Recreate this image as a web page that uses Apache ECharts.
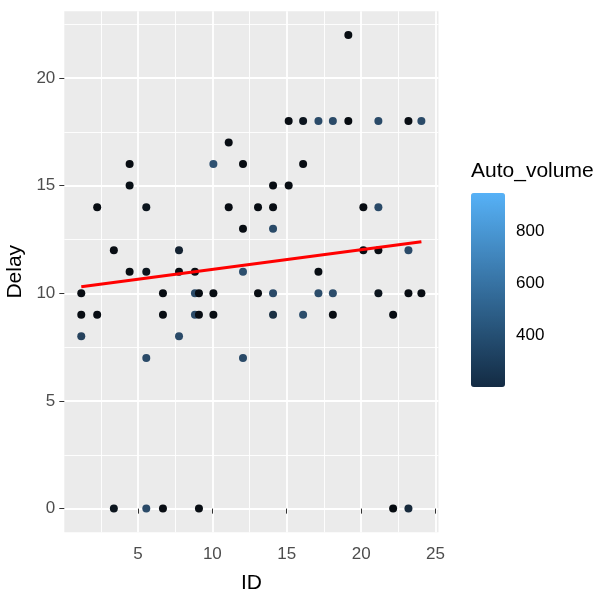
<!DOCTYPE html>
<html>
<head>
<meta charset="utf-8">
<script src="https://cdn.jsdelivr.net/npm/echarts@6/dist/echarts.min.js"></script>
<style>
  html, body { margin: 0; padding: 0; background: #fff; }
  #chart { width: 600px; height: 591px; }
</style>
</head>
<body>
<div id="chart"></div>
<script>
// point data
const ids = [
  1.19, 1.19, 1.19, 2.26, 2.26, 3.38, 3.38, 4.44, 4.44, 4.44,
  5.56, 5.56, 5.56, 5.56, 6.68, 6.68, 6.68, 7.76, 7.76, 7.76,
  8.83, 8.83, 8.83, 9.1, 9.1, 9.1, 10.07, 10.07, 10.07, 11.1,
  11.1, 12.06, 12.06, 12.06, 12.06, 13.07, 13.07, 14.08, 14.08, 14.08,
  14.08, 14.08, 15.13, 15.13, 16.1, 16.1, 16.1, 17.13, 17.13, 17.13,
  18.1, 18.1, 18.1, 19.14, 19.14, 20.15, 20.15, 21.16, 21.16, 21.16,
  21.16, 22.15, 22.15, 23.18, 23.18, 23.18, 23.18, 24.05, 24.05
];
const delays = [
  10, 9, 8, 14, 9, 12, 0, 16, 15, 11,
  14, 11, 7, 0, 10, 9, 0, 12, 11, 8,
  10, 9, 11, 10, 9, 0, 16, 10, 9, 17,
  14, 16, 13, 11, 7, 14, 10, 15, 14, 13,
  10, 9, 18, 15, 18, 16, 9, 18, 11, 10,
  18, 10, 9, 22, 18, 14, 12, 18, 14, 12,
  10, 9, 0, 18, 12, 10, 0, 18, 10
];
const volumes = [
  220, 220, 420, 220, 220, 220, 250, 220, 230, 220,
  250, 250, 450, 450, 220, 220, 220, 300, 220, 450,
  450, 450, 220, 220, 220, 220, 480, 220, 220, 220,
  220, 220, 220, 470, 450, 220, 220, 220, 220, 450,
  450, 350, 220, 220, 250, 220, 460, 450, 220, 460,
  450, 460, 220, 220, 210, 220, 220, 450, 450, 220,
  250, 220, 210, 220, 450, 220, 330, 450, 220
];

// linear fit (geom_smooth lm) endpoints
const fitLine = [[1.19, 10.3], [24.05, 12.39]];

// axis breaks
const xBreaks = [5, 10, 15, 20, 25];
const xMinor = [2.5, 7.5, 12.5, 17.5, 22.5];
const yBreaks = [0, 5, 10, 15, 20];
const yMinor = [2.5, 7.5, 12.5, 17.5, 22.5];
const volBreaks = [400, 600, 800];
const volRange = [200, 948];

const points = ids.map((id, i) => [id, delays[i], volumes[i]]);

const font = 'Liberation Sans';
const chart = echarts.init(document.getElementById('chart'), null, { renderer: 'canvas' });

const majorAxis = (breaks, margin) => ({
  axisLine: { show: false },
  axisTick: { show: true, inside: false, length: 5, customValues: breaks, lineStyle: { color: '#333333', width: 1 } },
  axisLabel: { customValues: breaks, color: '#4D4D4D', fontSize: 17, fontFamily: font, margin: margin },
  splitLine: { show: true, lineStyle: { color: '#FFFFFF', width: 1.8 } }
});
const minorAxis = (breaks) => ({
  axisLine: { show: false },
  axisTick: { show: false, customValues: breaks },
  axisLabel: { show: false },
  splitLine: { show: true, lineStyle: { color: '#FFFFFF', width: 0.9 } }
});

const option = {
  animation: false,
  backgroundColor: '#FFFFFF',
  title: {
    text: 'Auto_volume',
    left: 471,
    top: 161,
    padding: 0,
    textStyle: { fontFamily: font, fontSize: 21, fontWeight: 'normal', color: '#000000' }
  },
  grid: [
    { left: 64.3, right: 161.5, top: 11.2, bottom: 58.7, show: true, backgroundColor: '#EBEBEB', borderWidth: 0, outerBoundsMode: 'none' },
    { left: 471, top: 193, width: 34, height: 194, show: false, outerBoundsMode: 'none' }
  ],
  xAxis: [
    Object.assign({
      type: 'value', gridIndex: 0, min: 0.05, max: 25.2, position: 'bottom',
      name: 'ID', nameLocation: 'middle', nameGap: 40,
      nameTextStyle: { fontFamily: font, fontSize: 21, color: '#000000' }
    }, majorAxis(xBreaks, 14)),
    Object.assign({ type: 'value', gridIndex: 0, min: 0.05, max: 25.2, position: 'top' }, minorAxis(xMinor)),
    { type: 'value', gridIndex: 1, show: false, min: 0, max: 1 }
  ],
  yAxis: [
    Object.assign({
      type: 'value', gridIndex: 0, min: -1.1, max: 23.1, position: 'left',
      name: 'Delay', nameLocation: 'middle', nameGap: 33,
      nameTextStyle: { fontFamily: font, fontSize: 21, color: '#000000' }
    }, majorAxis(yBreaks, 9)),
    Object.assign({ type: 'value', gridIndex: 0, min: -1.1, max: 23.1, position: 'right' }, minorAxis(yMinor)),
    {
      type: 'value', gridIndex: 1, min: volRange[0], max: volRange[1], position: 'left',
      axisLine: { show: false },
      axisTick: { show: true, inside: true, length: 5, customValues: volBreaks, lineStyle: { color: '#FFFFFF', width: 1 } },
      axisLabel: { show: false },
      splitLine: { show: false }
    },
    {
      type: 'value', gridIndex: 1, min: volRange[0], max: volRange[1], position: 'right',
      axisLine: { show: false },
      axisTick: { show: true, inside: true, length: 5, customValues: volBreaks, lineStyle: { color: '#FFFFFF', width: 1 } },
      axisLabel: { customValues: volBreaks, color: '#000000', fontSize: 17, fontFamily: font, margin: 11 },
      splitLine: { show: false }
    }
  ],
  visualMap: [
    {
      // colour bar shown in the legend
      type: 'continuous',
      seriesIndex: 2,
      dimension: 2,
      min: volRange[0],
      max: volRange[1],
      calculable: false,
      hoverLink: false,
      left: 471,
      top: 193,
      padding: 0,
      itemWidth: 34,
      itemHeight: 194,
      text: null,
      inRange: { color: ['#132B43', '#56B1F7'] }
    },
    {
      // point colours (they print darker than the bar)
      type: 'continuous',
      show: false,
      seriesIndex: 0,
      dimension: 2,
      min: volRange[0],
      max: volRange[1],
      inRange: { color: ['#05080c', '#2a4a68', '#4f86b5', '#56B1F7'] }
    }
  ],
  series: [
    {
      type: 'scatter',
      xAxisIndex: 0,
      yAxisIndex: 0,
      data: points,
      encode: { x: 0, y: 1 },
      symbolSize: 8,
      itemStyle: { opacity: 1 },
      z: 2
    },
    {
      type: 'line',
      xAxisIndex: 0,
      yAxisIndex: 0,
      data: fitLine,
      showSymbol: false,
      lineStyle: { color: '#FF0000', width: 3 },
      z: 3
    },
    {
      type: 'scatter',
      xAxisIndex: 2,
      yAxisIndex: 2,
      data: [],
      silent: true
    }
  ]
};

chart.setOption(option);
</script>
</body>
</html>
